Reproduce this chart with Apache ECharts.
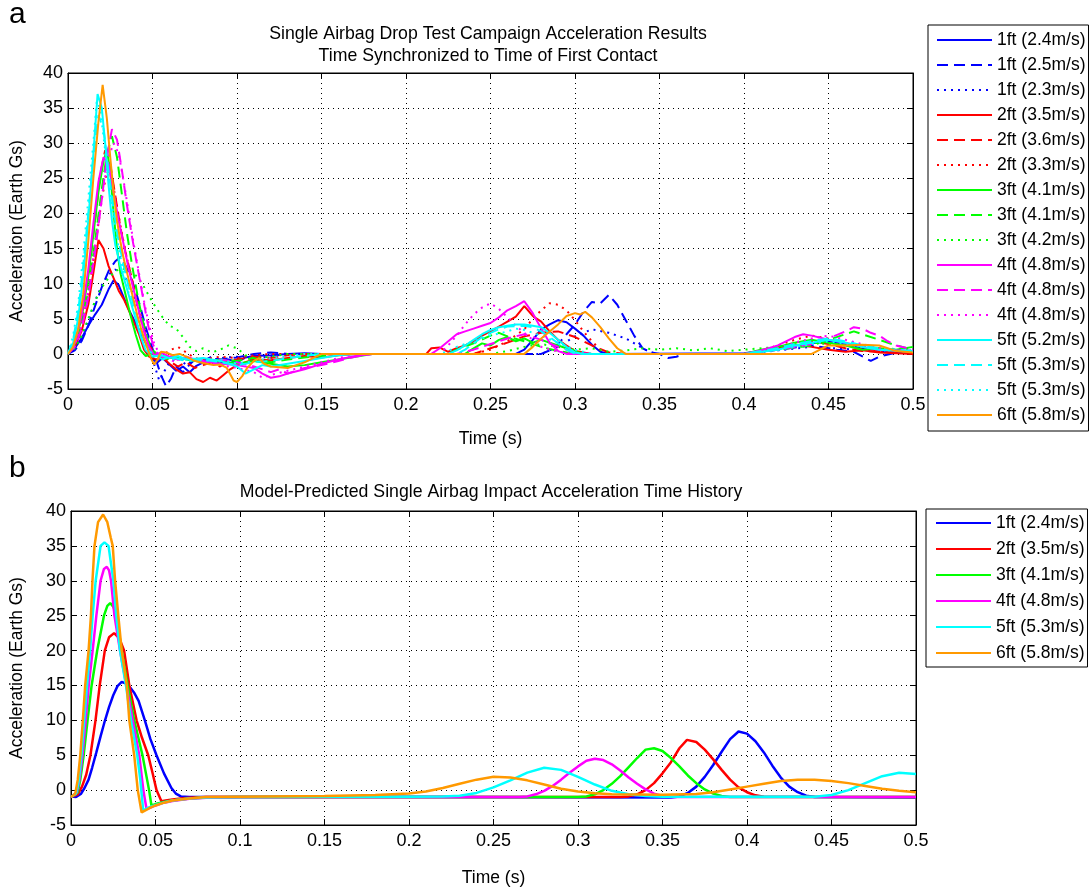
<!DOCTYPE html>
<html><head><meta charset="utf-8">
<script src="https://cdn.jsdelivr.net/npm/echarts@6/dist/echarts.min.js"></script>
<style>html,body{margin:0;padding:0;background:#fff}#c{width:1092px;height:888px}</style>
</head><body><div id="c"></div><script>
// ---------------- Panel a : experimental drop tests ----------------
const expNames = ['1ft (2.4m/s)','1ft (2.5m/s)','1ft (2.3m/s)','2ft (3.5m/s)','2ft (3.6m/s)','2ft (3.3m/s)',
  '3ft (4.1m/s)','3ft (4.1m/s)','3ft (4.2m/s)','4ft (4.8m/s)','4ft (4.8m/s)','4ft (4.8m/s)',
  '5ft (5.2m/s)','5ft (5.3m/s)','5ft (5.3m/s)','6ft (5.8m/s)'];

const exp1ft24 = [[0,0],[0.004,0.8],[0.008,2.2],[0.012,4.0],[0.016,5.6],[0.020,7.0],[0.024,9.2],[0.027,10.5],[0.030,9.8],[0.033,8.0],[0.036,6.3],[0.040,4.4],[0.044,2.5],[0.048,0.6],[0.050,-0.8],[0.053,-1.2],[0.056,-0.6],[0.06,-1.5],[0.064,-2.4],[0.068,-1.8],[0.072,-2.6],[0.076,-1.7],[0.08,-1.2],[0.085,-1.0],[0.09,-1.4],[0.095,-0.8],[0.1,-1.2],[0.105,-0.5],[0.11,-0.3],[0.12,-0.2],[0.13,0],[0.14,0.1],[0.15,0],[0.2,0],[0.265,0],[0.27,0.6],[0.275,2.0],[0.28,3.5],[0.285,4.2],[0.29,4.8],[0.295,4.5],[0.30,3.6],[0.305,2.6],[0.31,1.3],[0.315,0.3],[0.32,0],[0.4,0.1],[0.41,0.4],[0.42,0.8],[0.43,1.2],[0.44,1.5],[0.45,1.8],[0.46,1.4],[0.47,0.8],[0.48,0.5],[0.49,0.3],[0.5,0.2]];
const exp1ft25 = [[0,0],[0.004,0.5],[0.008,1.8],[0.012,4.0],[0.016,6.8],[0.020,9.5],[0.024,11.8],[0.028,13.2],[0.031,13.8],[0.034,12.6],[0.037,11.0],[0.040,9.0],[0.043,6.5],[0.046,3.8],[0.049,1.5],[0.052,-0.8],[0.055,-3.0],[0.058,-4.6],[0.061,-3.5],[0.064,-1.8],[0.068,-2.6],[0.072,-1.5],[0.076,-0.6],[0.08,-1.0],[0.085,-0.4],[0.09,-0.8],[0.1,-0.5],[0.11,0],[0.12,0.2],[0.13,0],[0.2,0],[0.28,0],[0.285,0.5],[0.29,1.4],[0.295,2.8],[0.30,4.2],[0.305,6.0],[0.31,7.4],[0.315,7.2],[0.32,8.4],[0.325,7.0],[0.33,4.8],[0.335,2.6],[0.34,0.8],[0.345,0.2],[0.35,0],[0.355,-0.6],[0.36,-0.4],[0.365,0],[0.4,0],[0.42,0.6],[0.44,1.2],[0.455,0.6],[0.465,0.3],[0.475,-1.0],[0.48,-0.4],[0.49,0.2],[0.5,0.5]];
const exp1ft23 = [[0,0],[0.004,0.8],[0.008,2.5],[0.012,4.8],[0.016,7.5],[0.020,9.8],[0.024,11.3],[0.028,12.0],[0.032,11.5],[0.036,10.0],[0.040,7.5],[0.044,4.8],[0.048,2.0],[0.051,-1.5],[0.054,-3.8],[0.057,-2.5],[0.06,-1.2],[0.065,-0.5],[0.07,-1.6],[0.075,-0.8],[0.08,-1.2],[0.09,-0.6],[0.1,-0.4],[0.11,-0.8],[0.12,-0.3],[0.13,0],[0.2,0],[0.28,0],[0.29,1.0],[0.30,2.5],[0.31,3.5],[0.32,3.0],[0.33,2.2],[0.34,0.8],[0.345,0.2],[0.35,0],[0.4,0],[0.42,0.5],[0.44,1.0],[0.46,0.7],[0.48,0.3],[0.5,0.2]];
const exp2ft35 = [[0,0],[0.004,1.0],[0.008,3.2],[0.012,7.0],[0.015,11.5],[0.018,16.2],[0.021,15.0],[0.024,12.5],[0.027,10.8],[0.030,9.0],[0.033,7.8],[0.036,6.2],[0.039,4.5],[0.042,2.8],[0.045,0.6],[0.048,-0.4],[0.052,-0.8],[0.056,-0.5],[0.06,-1.4],[0.064,-2.2],[0.068,-2.8],[0.072,-2.6],[0.076,-3.6],[0.08,-4.0],[0.084,-3.4],[0.088,-3.8],[0.092,-3.0],[0.096,-2.2],[0.1,-1.6],[0.105,-1.2],[0.11,-0.8],[0.12,-0.9],[0.13,-0.6],[0.14,-0.3],[0.15,-0.5],[0.16,-0.2],[0.17,0],[0.2,0],[0.212,0],[0.215,0.8],[0.22,0.9],[0.225,0.3],[0.23,0.8],[0.235,1.2],[0.24,1.8],[0.245,2.6],[0.25,3.2],[0.255,3.9],[0.26,4.6],[0.265,5.3],[0.27,6.8],[0.275,5.4],[0.28,4.6],[0.285,3.2],[0.29,2.0],[0.295,1.2],[0.3,0.4],[0.31,0],[0.4,0],[0.41,0.4],[0.42,0.8],[0.43,1.3],[0.44,1.0],[0.45,0.6],[0.46,0.3],[0.47,0.5],[0.48,0.2],[0.5,0]];
const exp2ft36 = [[0,0],[0.004,1.5],[0.008,5.0],[0.012,11.0],[0.016,19.0],[0.019,25.5],[0.022,29.0],[0.025,27.0],[0.028,22.5],[0.031,18.0],[0.034,14.5],[0.037,11.5],[0.040,8.0],[0.043,5.0],[0.046,2.5],[0.049,0.8],[0.052,-0.5],[0.056,-0.3],[0.06,-1.0],[0.065,-1.8],[0.07,-1.2],[0.075,-2.0],[0.08,-1.6],[0.085,-1.2],[0.09,-1.8],[0.095,-1.0],[0.1,-0.8],[0.11,-0.4],[0.12,-0.6],[0.13,-0.2],[0.14,0],[0.2,0],[0.24,0],[0.25,0.8],[0.26,1.6],[0.27,2.5],[0.28,3.0],[0.29,3.2],[0.3,2.4],[0.31,1.2],[0.32,0.2],[0.33,0],[0.4,0],[0.42,0.8],[0.44,1.8],[0.45,1.4],[0.46,0.8],[0.47,0.4],[0.5,0.3]];
const exp2ft33 = [[0,0],[0.004,1.0],[0.008,3.8],[0.012,8.5],[0.016,15.0],[0.020,22.0],[0.023,26.0],[0.026,25.0],[0.029,21.0],[0.032,17.0],[0.035,13.5],[0.038,10.5],[0.041,7.5],[0.044,4.5],[0.047,2.0],[0.05,0.5],[0.055,-0.5],[0.06,0.5],[0.065,1.0],[0.07,0.2],[0.075,-0.6],[0.08,-0.8],[0.09,-0.4],[0.1,-0.6],[0.11,-0.2],[0.12,0],[0.2,0],[0.24,0],[0.25,0.6],[0.26,1.8],[0.27,3.5],[0.275,5.0],[0.28,6.2],[0.285,7.2],[0.29,7.0],[0.295,6.2],[0.3,4.8],[0.305,3.2],[0.31,1.8],[0.315,0.6],[0.32,0],[0.4,0],[0.41,0.5],[0.42,1.2],[0.43,2.0],[0.44,2.6],[0.45,2.2],[0.46,1.4],[0.47,0.8],[0.48,0.4],[0.5,0.2]];
const exp3ft41a = [[0,0],[0.004,1.5],[0.008,5.0],[0.012,11.0],[0.015,17.0],[0.018,23.0],[0.021,27.5],[0.023,29.0],[0.025,26.0],[0.027,20.0],[0.029,15.0],[0.031,11.5],[0.034,8.5],[0.037,5.5],[0.040,2.8],[0.043,0.5],[0.046,-0.3],[0.05,0],[0.055,-0.2],[0.06,-0.6],[0.065,-0.4],[0.07,-0.8],[0.08,-1.2],[0.09,-1.0],[0.1,-1.4],[0.11,-1.0],[0.12,-1.4],[0.13,-1.8],[0.14,-1.6],[0.15,-1.2],[0.16,-0.8],[0.17,-0.4],[0.18,0],[0.2,0],[0.235,0],[0.24,0.8],[0.245,1.5],[0.25,1.2],[0.255,2.0],[0.26,2.4],[0.265,1.8],[0.27,2.2],[0.275,1.6],[0.28,2.0],[0.29,1.2],[0.3,0.4],[0.305,0],[0.4,0],[0.41,0.6],[0.42,1.0],[0.43,1.6],[0.44,2.0],[0.45,1.6],[0.46,1.2],[0.47,0.6],[0.48,0.8],[0.49,0.6],[0.5,1.0]];
const exp3ft41b = [[0,0],[0.004,1.2],[0.008,4.0],[0.012,9.0],[0.016,16.0],[0.020,23.5],[0.023,28.5],[0.026,31.0],[0.029,28.0],[0.032,22.5],[0.035,17.0],[0.038,12.5],[0.041,8.5],[0.044,5.0],[0.047,2.2],[0.05,0.5],[0.054,-0.2],[0.058,-0.8],[0.062,-0.4],[0.066,-1.0],[0.07,-0.6],[0.08,-1.2],[0.09,-0.8],[0.1,-1.0],[0.11,-0.6],[0.12,-1.2],[0.13,-0.8],[0.14,-0.5],[0.15,-0.3],[0.16,0],[0.2,0],[0.225,0],[0.23,0.6],[0.24,1.5],[0.25,2.6],[0.255,3.0],[0.26,2.5],[0.27,1.8],[0.28,1.0],[0.29,0.4],[0.3,0],[0.4,0],[0.42,0.6],[0.44,1.2],[0.45,2.0],[0.46,2.8],[0.465,3.2],[0.47,2.8],[0.48,2.0],[0.49,1.2],[0.5,0.6]];
const exp3ft42 = [[0,0],[0.004,0.8],[0.008,2.5],[0.012,5.0],[0.016,7.5],[0.020,9.5],[0.024,10.8],[0.028,11.8],[0.032,12.2],[0.036,11.8],[0.040,11.2],[0.044,10.0],[0.048,8.2],[0.052,6.6],[0.056,5.2],[0.06,4.0],[0.064,3.6],[0.068,2.4],[0.072,1.0],[0.076,0.4],[0.08,0.8],[0.085,0.2],[0.09,0.6],[0.095,1.2],[0.1,0.8],[0.105,-0.2],[0.11,-0.6],[0.12,-0.4],[0.13,0],[0.2,0],[0.25,0],[0.26,0.4],[0.27,1.0],[0.28,1.4],[0.29,1.0],[0.3,0.6],[0.31,0.8],[0.32,0.3],[0.33,0.5],[0.34,0.8],[0.35,0.6],[0.36,0.8],[0.37,0.5],[0.38,0.8],[0.39,0.4],[0.4,0.6],[0.42,1.0],[0.44,1.6],[0.46,1.2],[0.48,0.8],[0.5,0.6]];
const exp4ft48a = [[0,0],[0.004,1.5],[0.008,5.5],[0.012,12.0],[0.015,18.5],[0.018,24.5],[0.021,28.0],[0.024,27.0],[0.027,23.0],[0.030,19.0],[0.033,15.5],[0.036,12.0],[0.039,9.0],[0.042,6.0],[0.045,3.2],[0.048,1.0],[0.051,-0.2],[0.055,0.2],[0.06,-0.4],[0.065,-0.8],[0.07,-0.6],[0.08,-1.0],[0.09,-1.4],[0.1,-1.6],[0.11,-2.0],[0.115,-2.8],[0.12,-3.4],[0.125,-3.2],[0.13,-2.8],[0.14,-2.2],[0.15,-1.4],[0.16,-0.8],[0.17,-0.3],[0.18,0],[0.2,0],[0.215,0],[0.22,0.8],[0.225,1.8],[0.23,2.8],[0.235,3.2],[0.24,3.6],[0.245,4.0],[0.25,4.4],[0.255,5.2],[0.26,6.2],[0.265,6.8],[0.27,7.5],[0.275,5.8],[0.28,3.6],[0.285,1.6],[0.29,0.4],[0.295,0],[0.4,0],[0.41,0.5],[0.42,1.2],[0.43,2.4],[0.435,2.8],[0.44,2.6],[0.45,2.0],[0.46,1.6],[0.47,1.0],[0.48,0.6],[0.5,0.4]];
const exp4ft48b = [[0,0],[0.004,1.0],[0.008,3.5],[0.012,8.0],[0.016,14.5],[0.020,22.0],[0.023,28.0],[0.026,32.0],[0.029,30.5],[0.032,26.0],[0.035,21.0],[0.038,16.5],[0.041,12.5],[0.044,8.5],[0.047,4.5],[0.05,1.5],[0.053,0],[0.057,-0.6],[0.06,-0.2],[0.065,-0.8],[0.07,-0.4],[0.08,-1.2],[0.09,-0.8],[0.1,-1.2],[0.11,-1.8],[0.12,-2.6],[0.125,-2.2],[0.13,-2.8],[0.14,-2.0],[0.15,-1.6],[0.16,-1.0],[0.17,-0.4],[0.18,0],[0.2,0],[0.23,0],[0.24,0.6],[0.25,1.4],[0.26,2.2],[0.27,2.8],[0.28,2.0],[0.29,1.0],[0.3,0.2],[0.31,0],[0.4,0],[0.42,0.6],[0.44,1.4],[0.45,2.2],[0.46,3.2],[0.465,3.8],[0.47,3.6],[0.475,3.0],[0.48,2.6],[0.485,1.8],[0.49,1.2],[0.5,0.6]];
const exp4ft48c = [[0,0],[0.004,1.2],[0.008,4.0],[0.012,9.0],[0.016,15.5],[0.020,22.5],[0.024,28.0],[0.027,30.0],[0.030,28.5],[0.033,24.5],[0.036,20.0],[0.039,15.5],[0.042,11.5],[0.045,7.5],[0.048,4.0],[0.051,1.5],[0.054,0],[0.058,-0.5],[0.062,-1.0],[0.07,-0.6],[0.08,-1.2],[0.09,-1.6],[0.1,-2.0],[0.11,-2.6],[0.115,-3.4],[0.12,-3.0],[0.13,-2.4],[0.14,-1.8],[0.15,-1.2],[0.16,-0.6],[0.17,0],[0.2,0],[0.22,0],[0.225,1.2],[0.23,2.6],[0.235,4.2],[0.24,5.6],[0.245,6.6],[0.25,7.2],[0.255,6.4],[0.26,5.2],[0.265,4.0],[0.27,3.0],[0.275,2.0],[0.28,1.0],[0.29,0.3],[0.3,0],[0.4,0],[0.42,0.8],[0.43,1.6],[0.44,2.2],[0.45,2.6],[0.46,2.0],[0.47,1.4],[0.48,0.8],[0.5,0.4]];
const exp5ft52 = [[0,0],[0.003,1.5],[0.006,5.0],[0.009,11.0],[0.012,19.0],[0.015,28.5],[0.0175,37.0],[0.020,35.0],[0.022,30.0],[0.024,24.0],[0.026,19.0],[0.028,15.5],[0.031,12.5],[0.034,10.0],[0.037,7.5],[0.040,5.0],[0.043,2.5],[0.046,0.5],[0.05,-0.4],[0.055,-0.2],[0.06,-0.6],[0.065,-0.3],[0.07,-0.8],[0.08,-0.6],[0.09,-1.0],[0.1,-1.8],[0.105,-2.8],[0.11,-2.2],[0.115,-1.6],[0.12,-1.8],[0.13,-1.4],[0.14,-1.0],[0.15,-0.6],[0.16,-0.2],[0.17,0],[0.2,0],[0.225,0],[0.23,0.5],[0.235,1.2],[0.24,2.0],[0.245,2.8],[0.25,3.4],[0.255,3.8],[0.26,4.0],[0.265,4.2],[0.27,4.2],[0.275,4.0],[0.28,3.8],[0.285,3.0],[0.29,2.0],[0.295,1.0],[0.3,0.2],[0.305,0],[0.4,0],[0.42,0.6],[0.43,1.2],[0.44,1.6],[0.45,2.0],[0.46,1.6],[0.47,1.0],[0.48,0.6],[0.5,0.3]];
const exp5ft53a = [[0,0],[0.003,2.0],[0.006,6.0],[0.009,12.5],[0.012,20.0],[0.015,28.0],[0.018,34.0],[0.021,32.0],[0.024,26.0],[0.027,20.5],[0.030,16.0],[0.033,12.5],[0.036,9.5],[0.039,6.8],[0.042,4.2],[0.045,2.0],[0.048,0.4],[0.052,-0.2],[0.056,-0.8],[0.06,-0.4],[0.07,-1.0],[0.08,-0.8],[0.09,-1.2],[0.1,-1.6],[0.11,-1.2],[0.12,-1.0],[0.13,-0.6],[0.14,-0.3],[0.15,0],[0.2,0],[0.23,0],[0.235,0.6],[0.24,1.5],[0.245,2.4],[0.25,3.0],[0.255,3.5],[0.26,3.9],[0.27,4.0],[0.275,3.8],[0.28,3.2],[0.285,2.4],[0.29,1.5],[0.295,0.6],[0.3,0],[0.4,0],[0.42,0.8],[0.43,1.4],[0.44,1.8],[0.45,2.2],[0.46,1.8],[0.47,1.2],[0.48,0.8],[0.5,0.4]];
const exp5ft53b = [[0,0],[0.003,2.5],[0.006,7.0],[0.009,14.0],[0.012,22.0],[0.015,30.0],[0.017,36.0],[0.019,35.0],[0.021,31.0],[0.024,25.0],[0.027,19.5],[0.030,15.0],[0.033,11.5],[0.036,8.5],[0.039,6.0],[0.042,3.5],[0.045,1.5],[0.048,0.2],[0.052,-0.5],[0.056,-0.2],[0.06,-0.8],[0.07,-0.5],[0.08,-1.0],[0.09,-0.8],[0.1,-1.4],[0.11,-1.0],[0.12,-0.6],[0.13,-0.3],[0.14,0],[0.2,0],[0.22,0],[0.225,0.4],[0.23,1.0],[0.24,1.8],[0.25,2.6],[0.26,3.2],[0.265,3.6],[0.27,3.4],[0.28,2.6],[0.29,1.6],[0.3,0.6],[0.31,0],[0.4,0],[0.42,0.6],[0.44,1.4],[0.45,1.8],[0.46,1.4],[0.48,0.6],[0.5,0.3]];
const exp6ft58 = [[0,0],[0.003,1.0],[0.006,3.5],[0.009,8.5],[0.012,16.0],[0.015,25.0],[0.018,33.0],[0.0205,38.3],[0.023,33.5],[0.025,28.0],[0.027,23.0],[0.029,19.0],[0.031,16.0],[0.033,13.5],[0.035,11.5],[0.037,9.5],[0.039,7.5],[0.041,5.5],[0.043,3.8],[0.045,2.2],[0.047,0.8],[0.049,-0.6],[0.051,-1.5],[0.053,-0.8],[0.055,0.3],[0.058,0.2],[0.062,-0.2],[0.066,0],[0.07,-0.4],[0.074,-0.9],[0.078,-1.2],[0.082,-1.4],[0.086,-1.6],[0.09,-1.5],[0.094,-2.0],[0.098,-3.8],[0.1,-4.0],[0.103,-3.2],[0.106,-2.0],[0.11,-1.0],[0.113,-0.6],[0.116,-1.4],[0.12,-1.8],[0.125,-1.9],[0.13,-2.0],[0.135,-1.6],[0.14,-1.2],[0.145,-0.6],[0.15,0],[0.2,0],[0.27,0],[0.275,1.0],[0.28,2.2],[0.285,3.2],[0.29,4.2],[0.295,5.4],[0.3,5.8],[0.303,5.6],[0.306,6.0],[0.31,5.2],[0.315,3.8],[0.32,2.2],[0.325,0.8],[0.33,0],[0.44,0],[0.445,0.6],[0.45,1.2],[0.46,1.2],[0.47,1.3],[0.48,1.2],[0.485,0.8],[0.49,0.4],[0.5,0.2]];

const expData = [exp1ft24, exp1ft25, exp1ft23, exp2ft35, exp2ft36, exp2ft33, exp3ft41a, exp3ft41b, exp3ft42,
  exp4ft48a, exp4ft48b, exp4ft48c, exp5ft52, exp5ft53a, exp5ft53b, exp6ft58];
const expColors = ['#0000ff','#0000ff','#0000ff','#ff0000','#ff0000','#ff0000','#00ff00','#00ff00','#00ff00',
  '#ff00ff','#ff00ff','#ff00ff','#00ffff','#00ffff','#00ffff','#ff9900'];
const expDash = ['solid','dashed','dotted','solid','dashed','dotted','solid','dashed','dotted',
  'solid','dashed','dotted','solid','dashed','dotted','solid'];

// ---------------- Panel b : model prediction ----------------
const modelNames = ['1ft (2.4m/s)','2ft (3.5m/s)','3ft (4.1m/s)','4ft (4.8m/s)','5ft (5.3m/s)','6ft (5.8m/s)'];
const model1ft = [[0,-0.9],[0.003,-1.0],[0.006,-0.5],[0.008,0.3],[0.0104,1.5],[0.0125,3.2],[0.015,5.4],[0.0175,7.7],[0.02,9.9],[0.0225,11.9],[0.025,13.6],[0.0275,14.9],[0.03,15.5],[0.0325,15.3],[0.035,14.7],[0.0375,13.9],[0.04,12.8],[0.0437,10],[0.047,7.3],[0.0506,5],[0.055,2.4],[0.0594,0.3],[0.062,-0.5],[0.065,-0.9],[0.07,-1.0],[0.2,-1.0],[0.355,-1.05],[0.36,-0.9],[0.365,-0.4],[0.37,0.5],[0.375,1.9],[0.38,3.6],[0.385,5.5],[0.39,7.3],[0.395,8.4],[0.4,8.1],[0.405,7.0],[0.41,5.4],[0.415,3.5],[0.42,1.8],[0.425,0.5],[0.43,-0.3],[0.435,-0.8],[0.44,-1.0],[0.5,-1.05]];
const model2ft = [[0,-1.0],[0.004,-0.6],[0.0065,0.5],[0.009,2.2],[0.0115,5],[0.0145,10],[0.017,15],[0.02,20],[0.0225,21.9],[0.0255,22.5],[0.0285,21.8],[0.0314,20],[0.0345,15],[0.0388,10],[0.042,7.5],[0.0457,5],[0.0485,2.2],[0.0506,0],[0.0535,-1.6],[0.056,-1.5],[0.06,-1.35],[0.065,-1.2],[0.07,-1.1],[0.08,-1.0],[0.2,-1.0],[0.325,-1.0],[0.33,-0.9],[0.335,-0.6],[0.34,0],[0.345,1.0],[0.35,2.4],[0.355,4.0],[0.36,6.0],[0.3645,7.2],[0.37,6.9],[0.375,5.8],[0.38,4.4],[0.385,2.9],[0.39,1.5],[0.395,0.4],[0.4,-0.3],[0.405,-0.75],[0.41,-0.95],[0.5,-1.0]];
const model3ft = [[0,-1.0],[0.004,-0.3],[0.0055,1.5],[0.0075,5],[0.0098,10],[0.0122,15],[0.0155,20],[0.0195,25],[0.0215,26.4],[0.0232,26.8],[0.025,26.3],[0.027,25],[0.03,20],[0.0335,15],[0.0374,10],[0.0423,5],[0.0462,0],[0.0476,-2.2],[0.05,-2.0],[0.055,-1.7],[0.06,-1.5],[0.07,-1.2],[0.08,-1.05],[0.1,-1.0],[0.2,-1.0],[0.3,-1.0],[0.305,-0.9],[0.31,-0.6],[0.315,0],[0.32,0.9],[0.325,2.0],[0.33,3.3],[0.335,4.6],[0.34,5.8],[0.345,6.0],[0.35,5.6],[0.355,4.6],[0.36,3.4],[0.365,2.1],[0.37,1.0],[0.375,0.1],[0.38,-0.5],[0.385,-0.85],[0.39,-1.0],[0.5,-1.0]];
const model4ft = [[0,-1.0],[0.0035,-0.3],[0.005,1.5],[0.0068,5],[0.0087,10],[0.0105,15],[0.0128,20],[0.015,25],[0.0175,30],[0.0195,31.7],[0.0212,32],[0.0225,31.5],[0.0237,30],[0.0257,25],[0.029,20],[0.0328,15],[0.0365,10],[0.0404,5],[0.0428,0],[0.0447,-2.7],[0.047,-2.5],[0.05,-2.2],[0.055,-1.8],[0.06,-1.55],[0.07,-1.25],[0.08,-1.1],[0.1,-1.0],[0.2,-1.0],[0.265,-1.0],[0.27,-0.9],[0.275,-0.6],[0.28,-0.1],[0.285,0.6],[0.29,1.5],[0.295,2.5],[0.3,3.4],[0.305,4.2],[0.31,4.5],[0.315,4.3],[0.32,3.7],[0.325,2.8],[0.33,1.8],[0.335,0.9],[0.34,0.1],[0.345,-0.5],[0.35,-0.85],[0.355,-1.0],[0.5,-1.0]];
const model5ft = [[0,-1.0],[0.003,-0.5],[0.0045,1.2],[0.0062,5],[0.0078,10],[0.0095,15],[0.0113,20],[0.0128,25],[0.0146,30],[0.0175,35],[0.0198,35.5],[0.0222,35],[0.0251,30],[0.0268,25],[0.029,20],[0.0325,15],[0.0355,10],[0.0392,5],[0.041,1.5],[0.0427,-2.9],[0.045,-2.6],[0.048,-2.3],[0.052,-2.0],[0.056,-1.7],[0.06,-1.5],[0.07,-1.2],[0.08,-1.05],[0.1,-1.0],[0.15,-0.95],[0.2,-0.95],[0.22,-0.9],[0.23,-0.8],[0.24,-0.4],[0.25,0.4],[0.26,1.4],[0.27,2.5],[0.28,3.2],[0.29,2.9],[0.3,1.9],[0.31,0.8],[0.32,-0.1],[0.33,-0.6],[0.34,-0.85],[0.35,-0.95],[0.44,-0.95],[0.45,-0.7],[0.46,0],[0.47,1.0],[0.48,2.0],[0.49,2.5],[0.5,2.3]];
const model6ft = [[0,-1.0],[0.0025,-0.5],[0.004,1.5],[0.0055,5],[0.007,10],[0.0084,15],[0.0104,20],[0.0118,25],[0.0127,30],[0.0139,35],[0.016,38.4],[0.019,39.5],[0.0215,38.4],[0.0235,36.2],[0.0247,35],[0.0261,30],[0.028,25],[0.03,20],[0.033,15],[0.0345,10],[0.0374,5],[0.0395,0],[0.0418,-3.2],[0.044,-2.9],[0.047,-2.5],[0.05,-2.2],[0.055,-1.8],[0.06,-1.5],[0.07,-1.2],[0.08,-1.0],[0.1,-0.95],[0.15,-0.85],[0.18,-0.7],[0.2,-0.5],[0.21,-0.2],[0.22,0.3],[0.23,0.9],[0.24,1.5],[0.25,1.9],[0.26,1.8],[0.27,1.4],[0.28,0.8],[0.29,0.2],[0.3,-0.2],[0.31,-0.45],[0.32,-0.6],[0.35,-0.65],[0.37,-0.55],[0.38,-0.3],[0.39,0.1],[0.4,0.5],[0.41,0.9],[0.42,1.3],[0.43,1.5],[0.44,1.5],[0.45,1.3],[0.46,1.0],[0.47,0.6],[0.48,0.2],[0.49,-0.1],[0.5,-0.3]];
const modelData = [model1ft, model2ft, model3ft, model4ft, model5ft, model6ft];
const modelColors = ['#0000ff','#ff0000','#00ff00','#ff00ff','#00ffff','#ff9900'];

const titleA = 'Single Airbag Drop Test Campaign Acceleration Results\nTime Synchronized to Time of First Contact';
const titleB = 'Model-Predicted Single Airbag Impact Acceleration Time History';
const xName = 'Time (s)';
const yName = 'Acceleration (Earth Gs)';

// ---------------- build ----------------
const FONT = '"Liberation Sans", Arial, sans-serif';
const dashMap = {solid: 'solid', dashed: [11, 6], dotted: [2, 5]};
const ZW = '\u200b';

function xAx(grid, top) {
  return {
    type: 'value', gridIndex: grid, min: 0, max: 0.5, interval: 0.05, position: top ? 'top' : 'bottom',
    name: top ? '' : xName, nameLocation: 'middle', nameGap: grid === 0 ? 41 : 44,
    nameTextStyle: {color: '#000', fontSize: 17.5, fontFamily: FONT},
    axisLine: {show: true, onZero: false, lineStyle: {color: '#000', width: 1}},
    axisTick: {show: true, inside: true, length: 6, lineStyle: {color: '#000'}},
    axisLabel: {show: !top, color: '#000', fontSize: 18, fontFamily: FONT, margin: 7},
    splitLine: {show: !top, lineStyle: {color: '#000', type: [1, 4], width: 1}}
  };
}
function yAx(grid, right) {
  return {
    type: 'value', gridIndex: grid, min: -5, max: 40, interval: 5, position: right ? 'right' : 'left',
    name: right ? '' : yName, nameLocation: 'middle', nameGap: grid === 0 ? 42 : 45,
    nameTextStyle: {color: '#000', fontSize: 17.5, fontFamily: FONT},
    axisLine: {show: true, onZero: false, lineStyle: {color: '#000', width: 1}},
    axisTick: {show: true, inside: true, length: 6, lineStyle: {color: '#000'}},
    axisLabel: {show: !right, color: '#000', fontSize: 18, fontFamily: FONT, margin: 5},
    splitLine: {show: !right, lineStyle: {color: '#000', type: [1, 4], width: 1}}
  };
}

const series = [];
const legA = [], legB = [];
expData.forEach((d, i) => {
  const name = expNames[i] + ZW.repeat(i);
  legA.push(name);
  series.push({type: 'line', name, xAxisIndex: 0, yAxisIndex: 0, data: d, symbol: 'none', showSymbol: false,
    lineStyle: {color: expColors[i], width: 2, type: dashMap[expDash[i]]}, itemStyle: {color: expColors[i]},
    z: 2 + i, silent: true});
});
modelData.forEach((d, i) => {
  const name = modelNames[i] + ZW.repeat(20 + i);
  legB.push(name);
  series.push({type: 'line', name, xAxisIndex: 2, yAxisIndex: 2, data: d, symbol: 'none', showSymbol: false,
    lineStyle: {color: modelColors[i], width: 2.5}, itemStyle: {color: modelColors[i]}, z: 2 + i, silent: true});
});

const legendCommon = {
  orient: 'vertical', itemWidth: 55, itemHeight: 14, backgroundColor: '#fff',
  borderColor: '#000', borderWidth: 1, borderRadius: 0, selectedMode: false,
  itemStyle: {color: 'rgba(0,0,0,0)', borderColor: 'rgba(0,0,0,0)', borderWidth: 0, opacity: 0},
  textStyle: {color: '#000', fontSize: 17.5, fontFamily: FONT},
  formatter: n => n.replace(/\u200b/g, '')
};

const option = {
  animation: false,
  backgroundColor: '#fff',
  grid: [
    {left: 63, top: 73, width: 850, height: 316, show: true, borderColor: '#000', borderWidth: 1, backgroundColor: '#fff'},
    {left: 66, top: 511, width: 850, height: 322, show: true, borderColor: '#000', borderWidth: 1, backgroundColor: '#fff'}
  ],
  xAxis: [xAx(0, false), xAx(0, true), xAx(1, false), xAx(1, true)],
  yAxis: [yAx(0, false), yAx(0, true), yAx(1, false), yAx(1, true)],
  legend: [
    Object.assign({}, legendCommon, {data: legA, left: 928, top: 25, itemGap: 7, padding: [6, 3, 7, 8]}),
    Object.assign({}, legendCommon, {data: legB, left: 926, top: 509, itemGap: 8, padding: [5, 3, 5, 9]})
  ],
  graphic: [
    {type: 'text', left: 9, top: 0, style: {text: 'a', font: '30px ' + FONT, fill: '#000'}},
    {type: 'text', left: 9, top: 454, style: {text: 'b', font: '30px ' + FONT, fill: '#000'}},
    {type: 'text', x: 488, y: 23, style: {text: titleA, font: '17.7px ' + FONT, fill: '#000', textAlign: 'center', lineHeight: 22}},
    {type: 'text', x: 491, y: 483, style: {text: titleB, font: '17.7px ' + FONT, fill: '#000', textAlign: 'center'}}
  ],
  series
};

const chart = echarts.init(document.getElementById('c'), null, {renderer: 'canvas'});
chart.setOption(option);
</script></body></html>
